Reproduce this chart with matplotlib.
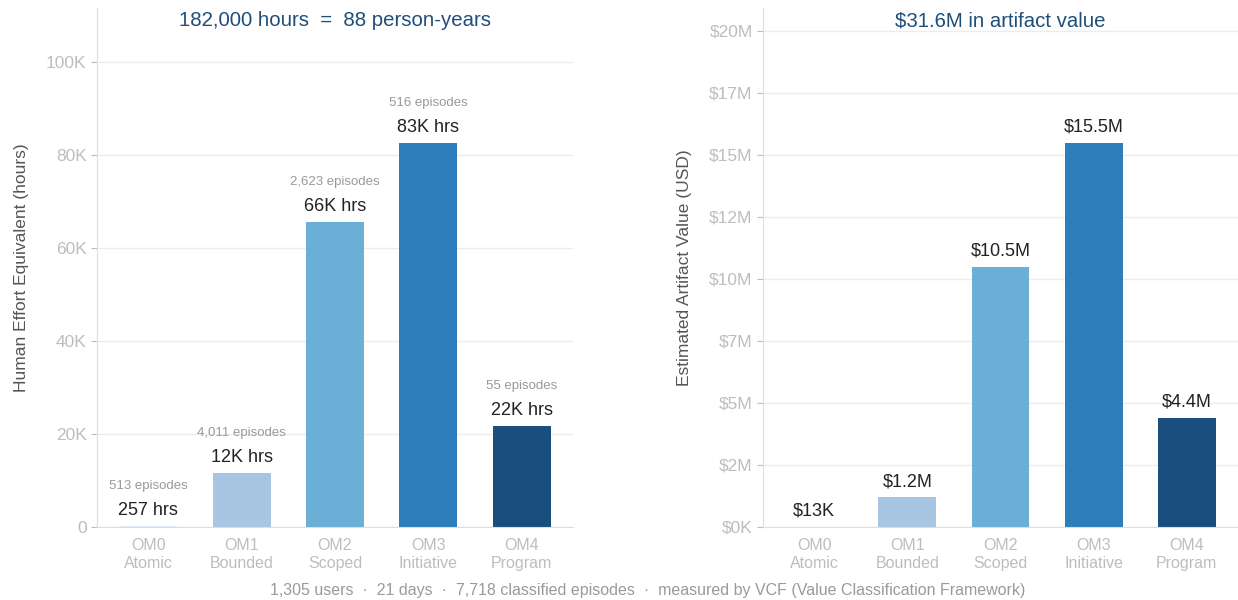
import matplotlib.pyplot as plt
from matplotlib.ticker import FuncFormatter, MultipleLocator

plt.rcParams['font.family'] = ['Liberation Sans', 'DejaVu Sans']

# niveis OM e dados de cada grafico
niveis = ['OM0\nAtomic', 'OM1\nBounded', 'OM2\nScoped', 'OM3\nInitiative', 'OM4\nProgram']
horas = [257, 11700, 65600, 82600, 21800]
episodios = [513, 4011, 2623, 516, 55]
valor_usd = [13_000, 1_200_000, 10_500_000, 15_500_000, 4_400_000]
cores = ['#dbe9f6', '#a8c6e2', '#6baed6', '#2e7ebc', '#1a4e7e']

titulo_horas = '182,000 hours  =  88 person-years'
titulo_valor = '$31.6M in artifact value'
rodape = '1,305 users  \u00b7  21 days  \u00b7  7,718 classified episodes  \u00b7  measured by VCF (Value Classification Framework)'

cinza_tick = '#bdbdbd'
cor_titulo = '#1f4e79'

fig = plt.figure(figsize=(12.38, 6), dpi=100)
ax1 = fig.add_axes([97 / 1238, 73 / 600, 476 / 1238, 519 / 600])
ax2 = fig.add_axes([763 / 1238, 73 / 600, 475 / 1238, 519 / 600])


def estilo(ax, ymax):
    ax.set_xlim(-0.55, 4.55)
    ax.set_ylim(0, ymax * 1.35)
    for lado in ['top', 'right']:
        ax.spines[lado].set_visible(False)
    ax.spines['left'].set_color('#dddddd')
    ax.spines['bottom'].set_color('#dddddd')
    ax.grid(axis='y', color='#ececec', linewidth=1)
    ax.set_axisbelow(True)
    ax.tick_params(axis='y', colors=cinza_tick, labelsize=12.5, length=4, width=0.8)
    ax.tick_params(axis='x', colors=cinza_tick, labelsize=11.5, length=0, pad=8)
    for t in ax.get_yticklabels() + ax.get_xticklabels():
        t.set_color(cinza_tick)


x = range(len(niveis))

# grafico de horas
ax1.bar(x, horas, width=0.62, color=cores)
estilo(ax1, max(horas))
ax1.yaxis.set_major_locator(MultipleLocator(20000))
ax1.yaxis.set_major_formatter(FuncFormatter(lambda v, p: '0' if v == 0 else f'{int(v / 1000)}K'))
ax1.set_xticks(list(x))
ax1.set_xticklabels(niveis, color=cinza_tick, linespacing=1.2)
ax1.set_ylabel('Human Effort Equivalent (hours)', fontsize=12.5, color='#555555', labelpad=12)
ax1.text(0.5, 0.994, titulo_horas, transform=ax1.transAxes, ha='center', va='top',
         fontsize=14.7, color=cor_titulo)

for i, (h, e) in enumerate(zip(horas, episodios)):
    rotulo = f'{h:,} hrs' if h < 1000 else f'{h / 1000:.0f}K hrs'
    ax1.annotate(rotulo, (i, h), xytext=(0, 5), textcoords='offset points',
                 ha='center', va='bottom', fontsize=13, color='#222222')
    ax1.annotate(f'{e:,} episodes', (i, h), xytext=(0, 24.5), textcoords='offset points',
                 ha='center', va='bottom', fontsize=9.5, color='#999999')

# grafico de valor
ax2.bar(x, valor_usd, width=0.62, color=cores)
estilo(ax2, max(valor_usd))
ax2.yaxis.set_major_locator(MultipleLocator(2_500_000))
ax2.yaxis.set_major_formatter(FuncFormatter(lambda v, p: '$0K' if v == 0 else f'${int(v / 1e6)}M'))
ax2.set_xticks(list(x))
ax2.set_xticklabels(niveis, color=cinza_tick, linespacing=1.2)
ax2.set_ylabel('Estimated Artifact Value (USD)', fontsize=12.5, color='#555555', labelpad=12)
ax2.text(0.5, 0.994, titulo_valor, transform=ax2.transAxes, ha='center', va='top',
         fontsize=14.7, color=cor_titulo)

for i, v in enumerate(valor_usd):
    rotulo = f'${v / 1000:.0f}K' if v < 1e6 else f'${v / 1e6:.1f}M'
    ax2.annotate(rotulo, (i, v), xytext=(0, 5), textcoords='offset points',
                 ha='center', va='bottom', fontsize=13, color='#222222')

fig.text(0.523, 0.0165, rodape, ha='center', va='center', fontsize=11.5, color='#9a9a9a')

plt.savefig('out.png', dpi=100)
